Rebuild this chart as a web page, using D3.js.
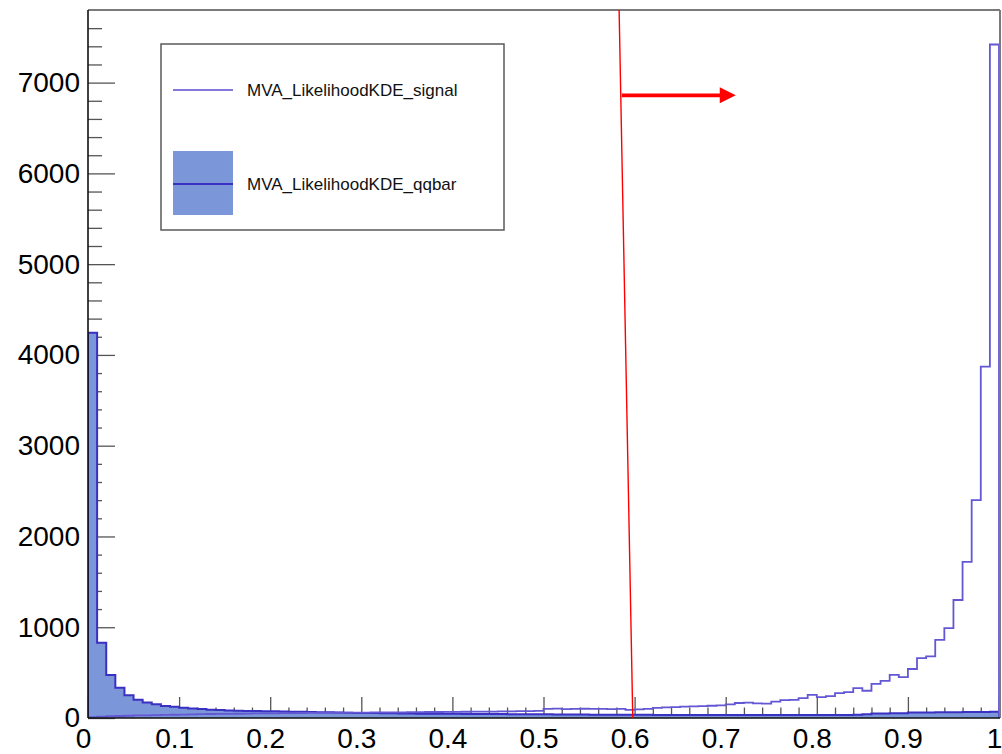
<!DOCTYPE html>
<html>
<head>
<meta charset="utf-8">
<script src="https://cdn.jsdelivr.net/npm/d3@7"></script>
<style>
  html, body { margin: 0; padding: 0; background: #fff; }
  svg { display: block; }
  text { font-family: "Liberation Sans", Arial, Helvetica, sans-serif; }
</style>
</head>
<body>
<svg id="chart" width="1002" height="754"></svg>
<script>
// ---- histogram contents: 100 bins of width 0.01 on [0, 1] ----
const binEdges = [0, 1];
const nBins = 100;

const signalCounts = [
  10, 15, 20, 22, 25, 28, 30, 32, 34, 36,
  38, 40, 42, 44, 45, 46, 47, 48, 50, 50,
  52, 53, 54, 55, 56, 57, 58, 58, 59, 60,
  60, 61, 62, 62, 63, 64, 65, 66, 66, 67,
  68, 69, 70, 70, 71, 72, 74, 75, 76, 78,
  100, 104, 98, 100, 102, 100, 100, 98, 100, 90,
  96, 100, 112, 116, 120, 125, 128, 130, 135, 140,
  150, 165, 170, 162, 158, 180, 196, 200, 220, 255,
  230, 240, 275, 285, 330, 300, 375, 410, 475, 450,
  540, 660, 680, 860, 990, 1300, 1720, 2400, 3870, 7420
];

const qqbarCounts = [
  4245, 830, 474, 334, 252, 200, 172, 152, 132, 124,
  112, 104, 98, 92, 88, 82, 80, 78, 76, 74,
  74, 72, 70, 68, 66, 64, 62, 60, 58, 56,
  55, 54, 52, 52, 50, 50, 48, 48, 47, 46,
  46, 45, 45, 44, 44, 43, 42, 42, 41, 40,
  40, 39, 39, 38, 38, 37, 37, 36, 36, 35,
  35, 35, 34, 34, 34, 33, 33, 33, 33, 32,
  32, 32, 32, 32, 32, 32, 33, 33, 33, 33,
  33, 33, 34, 34, 36, 40, 50, 50, 52, 52,
  60, 60, 60, 62, 62, 62, 65, 65, 66, 70
];

// axis ticks and labels
const xMajorTicks = [0, 0.1, 0.2, 0.3, 0.4, 0.5, 0.6, 0.7, 0.8, 0.9, 1];
const xTickLabels = ["0", "0.1", "0.2", "0.3", "0.4", "0.5", "0.6", "0.7", "0.8", "0.9", "1"];
const yMajorTicks = [0, 1000, 2000, 3000, 4000, 5000, 6000, 7000];
const yTickLabels = ["0", "1000", "2000", "3000", "4000", "5000", "6000", "7000"];
const yMax = 7800;

// selection cut with its direction arrow (data coordinates)
const cutLine = { xTop: 0.583, xBottom: 0.598 };
const cutArrow = { x0: 0.586, x1: 0.711, y: 6860 };

const legendEntries = ["MVA_LikelihoodKDE_signal", "MVA_LikelihoodKDE_qqbar"];

// ---- drawing ----
const svg = d3.select("#chart");
const frame = { left: 88, right: 999, top: 10, bottom: 718 };

const x = d3.scaleLinear().domain(binEdges).range([frame.left, frame.right]);
const y = d3.scaleLinear().domain([0, yMax]).range([frame.bottom, frame.top]);

const colSignal = "#6457d4";
const colQQLine = "#3a30c2";
const colQQFill = "#7b97d9";
const tickCol = "#555";

// minor and major ticks (drawn inward, behind the histograms)
const xMinor = d3.range(0, 1.0001, 0.02).filter(v => Math.abs(v * 10 - Math.round(v * 10)) > 1e-6);
const yMinor = d3.range(0, yMax, 200).filter(v => v % 1000 !== 0);

const gx = svg.append("g").attr("transform", `translate(0,${frame.bottom})`);
gx.append("g")
  .call(d3.axisBottom(x).tickValues(xMinor).tickSize(-10.5).tickFormat(""))
  .call(g => g.select(".domain").remove());
gx.append("g")
  .call(d3.axisBottom(x).tickValues(xMajorTicks).tickSize(-21).tickPadding(10)
    .tickFormat((d, i) => xTickLabels[i]))
  .call(g => g.select(".domain").remove());

const gy = svg.append("g").attr("transform", `translate(${frame.left},0)`);
gy.append("g")
  .call(d3.axisLeft(y).tickValues(yMinor).tickSize(-14).tickFormat(""))
  .call(g => g.select(".domain").remove());
gy.append("g")
  .call(d3.axisLeft(y).tickValues(yMajorTicks).tickSize(-27).tickPadding(8)
    .tickFormat((d, i) => yTickLabels[i]))
  .call(g => g.select(".domain").remove());

svg.selectAll(".tick line").attr("stroke", tickCol).attr("stroke-width", 1.3);
gx.selectAll(".tick text")
  .attr("font-size", 28).attr("fill", "#000")
  .attr("dx", (d, i) => (i === 0 || i === xMajorTicks.length - 1) ? 0 : -5);
gy.selectAll(".tick text").attr("font-size", 28).attr("fill", "#000");

// histogram outlines as step functions
function stepPoints(counts) {
  const w = (binEdges[1] - binEdges[0]) / nBins;
  const pts = [[binEdges[0], 0]];
  counts.forEach((c, i) => pts.push([binEdges[0] + i * w, c]));
  pts.push([binEdges[1], counts[counts.length - 1]]);
  pts.push([binEdges[1], 0]);
  return pts;
}

const stepLine = d3.line()
  .x(d => x(d[0])).y(d => y(d[1]))
  .curve(d3.curveStepAfter);
const stepArea = d3.area()
  .x(d => x(d[0])).y0(y(0)).y1(d => y(d[1]))
  .curve(d3.curveStepAfter);

svg.append("clipPath").attr("id", "plotArea")
  .append("rect")
  .attr("x", frame.left).attr("y", frame.top)
  .attr("width", frame.right - frame.left).attr("height", frame.bottom - frame.top);

const plot = svg.append("g").attr("clip-path", "url(#plotArea)");

const qqPts = stepPoints(qqbarCounts);
plot.append("path")
  .attr("d", stepArea(qqPts))
  .attr("fill", colQQFill);
plot.append("path")
  .attr("d", stepLine(qqPts))
  .attr("fill", "none")
  .attr("stroke", colQQLine)
  .attr("stroke-width", 2);

plot.append("path")
  .attr("d", stepLine(stepPoints(signalCounts)))
  .attr("fill", "none")
  .attr("stroke", colSignal)
  .attr("stroke-width", 1.8);

// frame
svg.append("line")
  .attr("x1", frame.left).attr("x2", frame.right + 1)
  .attr("y1", frame.top).attr("y2", frame.top)
  .attr("stroke", "#7a7a7a").attr("stroke-width", 2);
svg.append("line")
  .attr("x1", frame.right + 1).attr("x2", frame.right + 1)
  .attr("y1", frame.top).attr("y2", frame.bottom)
  .attr("stroke", "#7a7a7a").attr("stroke-width", 2);
svg.append("line")
  .attr("x1", frame.left).attr("x2", frame.left)
  .attr("y1", frame.top).attr("y2", frame.bottom)
  .attr("stroke", "#111").attr("stroke-width", 1.6);
svg.append("line")
  .attr("x1", frame.left).attr("x2", frame.right + 1)
  .attr("y1", frame.bottom).attr("y2", frame.bottom)
  .attr("stroke", "#111").attr("stroke-width", 1.6);

// cut line and arrow
svg.append("line")
  .attr("x1", x(cutLine.xTop)).attr("y1", y(yMax))
  .attr("x2", x(cutLine.xBottom)).attr("y2", y(0))
  .attr("stroke", "#ff0000").attr("stroke-width", 1.4);

const ax0 = x(cutArrow.x0), ax1 = x(cutArrow.x1), ay = y(cutArrow.y);
svg.append("line")
  .attr("x1", ax0).attr("y1", ay)
  .attr("x2", ax1 - 14).attr("y2", ay)
  .attr("stroke", "#ff0000").attr("stroke-width", 3.8);
svg.append("path")
  .attr("d", `M${ax1 - 16},${ay - 8}L${ax1},${ay}L${ax1 - 16},${ay + 8}Z`)
  .attr("fill", "#ff0000");

// legend
const lg = svg.append("g");
lg.append("rect")
  .attr("x", 161).attr("y", 44).attr("width", 343).attr("height", 186)
  .attr("fill", "#fff").attr("stroke", "#5a5a5a").attr("stroke-width", 1.5);

lg.append("line")
  .attr("x1", 173).attr("x2", 233).attr("y1", 90).attr("y2", 90)
  .attr("stroke", colSignal).attr("stroke-width", 2).attr("opacity", 0.8);
lg.append("text")
  .attr("x", 247).attr("y", 90).attr("dy", "0.35em")
  .attr("font-size", 17).attr("fill", "#111")
  .text(legendEntries[0]);

lg.append("rect")
  .attr("x", 173).attr("y", 151).attr("width", 60).attr("height", 64)
  .attr("fill", colQQFill);
lg.append("line")
  .attr("x1", 173).attr("x2", 233).attr("y1", 184).attr("y2", 184)
  .attr("stroke", colQQLine).attr("stroke-width", 2);
lg.append("text")
  .attr("x", 247).attr("y", 184).attr("dy", "0.35em")
  .attr("font-size", 17).attr("fill", "#111")
  .text(legendEntries[1]);
</script>
</body>
</html>
